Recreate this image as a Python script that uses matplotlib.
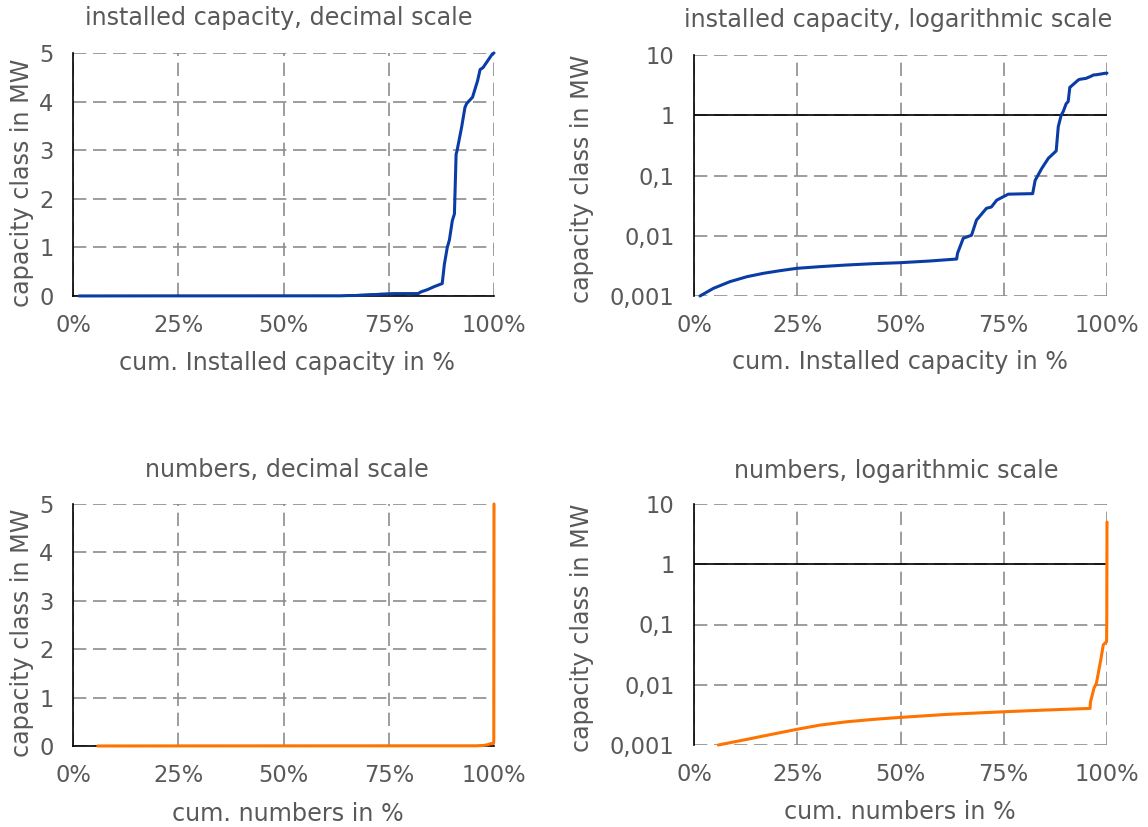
import numpy as np
import matplotlib
matplotlib.use("Agg")
import matplotlib.pyplot as plt
from matplotlib.ticker import FixedLocator, FixedFormatter

# cumulative share of installed capacity (%) vs. capacity class (MW)
cap_share = [1.45, 4.7, 8.7, 12.8, 16.8, 20.8, 24.9, 30.5, 37, 43.4, 49.9,
             57.1, 63.6, 63.8, 65.2, 67.2, 68.4, 70.8, 72, 73.3, 76.1, 82,
             82.6, 84.2, 85.8, 87.7, 88.2, 88.9, 89.4, 90.1, 90.6, 91.0, 91.2,
             92.3, 93.1, 93.5, 94.9, 96.1, 96.7, 97.4, 99.6, 100]
cap_class = [0.001, 0.00134, 0.00173, 0.00209, 0.00238, 0.00263, 0.00288,
             0.00307, 0.00327, 0.00344, 0.00357, 0.00381, 0.00411, 0.0051,
             0.0091, 0.0102, 0.0182, 0.0285, 0.030, 0.039, 0.049, 0.050,
             0.083, 0.131, 0.193, 0.256, 0.646, 1.0, 1.15, 1.55, 1.69, 2.92,
             2.98, 3.47, 3.88, 3.96, 4.09, 4.43, 4.66, 4.70, 4.98, 5.0]

# cumulative share of plant numbers (%) vs. capacity class (MW)
num_share = [5.9, 12.8, 16.8, 24.9, 30.5, 37, 43.4, 49.9, 61.2, 74.9, 85,
             95.9, 96.0, 96.9, 97.4, 98.5, 99.1, 99.9, 99.95, 100]
num_class = [0.001, 0.00124, 0.00141, 0.00182, 0.00214, 0.00243, 0.00266,
             0.00287, 0.00322, 0.00356, 0.0038, 0.00405, 0.0052, 0.009,
             0.0103, 0.026, 0.046, 0.052, 0.12, 5.0]

x_ticks = [0, 25, 50, 75, 100]
x_labels = ["0%", "25%", "50%", "75%", "100%"]
lin_ticks = [0, 1, 2, 3, 4, 5]
log_ticks = [0.001, 0.01, 0.1, 1, 10]
log_labels = ["0,001", "0,01", "0,1", "1", "10"]

BLUE = "#0a3ca6"
ORANGE = "#ff7300"
TXT = "#595959"
GRID = "#8c8c8c"

W, H = 1148, 827
plt.rcParams["font.family"] = "DejaVu Sans"
plt.rcParams["font.size"] = 16

fig = plt.figure(figsize=(W / 100, H / 100), dpi=100)
fig.set_facecolor("white")


def box(x0, y0, x1, y1):
    return [x0 / W, 1 - y1 / H, (x1 - x0) / W, (y1 - y0) / H]


def ftext(x, y, s, **kw):
    fig.text(x / W, 1 - y / H, s, ha="center", va="center", color=TXT,
             fontsize=17.2, **kw)


def setup(ax, log):
    ax.set_xlim(0, 100)
    ax.xaxis.set_major_locator(FixedLocator(x_ticks))
    ax.xaxis.set_major_formatter(FixedFormatter(x_labels))
    if log:
        ax.set_yscale("log")
        ax.set_ylim(0.001, 10)
        ax.yaxis.set_major_locator(FixedLocator(log_ticks))
        ax.yaxis.set_major_formatter(FixedFormatter(log_labels))
        ax.yaxis.set_minor_locator(FixedLocator([]))
        ax.axhline(1, color="black", lw=1.2, zorder=3)
        ax.spines["bottom"].set_visible(False)
    else:
        ax.set_ylim(0, 5)
        ax.yaxis.set_major_locator(FixedLocator(lin_ticks))
        ax.spines["bottom"].set_color("black")
        ax.spines["bottom"].set_linewidth(1.2)
        ax.spines["bottom"].set_zorder(3)
    for s in ["top", "right"]:
        ax.spines[s].set_visible(False)
    ax.spines["left"].set_color("black")
    ax.spines["left"].set_linewidth(1.2)
    ax.grid(True, color=GRID, lw=1.2, ls=(0, (8, 4)))
    ax.set_axisbelow(True)
    ax.tick_params(length=0, colors=TXT, labelsize=16.3)
    ax.tick_params(axis="x", pad=13)
    ax.tick_params(axis="y", pad=14)


panels = [
    (box(73, 53, 494, 296), False, cap_share, cap_class, BLUE,
     "installed capacity, decimal scale", (279, 18),
     "cum. Installed capacity in %", (287, 363), (22, 183)),
    (box(694, 55, 1107, 296), True, cap_share, cap_class, BLUE,
     "installed capacity, logarithmic scale", (898, 20),
     "cum. Installed capacity in %", (900, 362), (582, 179)),
    (box(73, 504, 494, 746), False, num_share, num_class, ORANGE,
     "numbers, decimal scale", (287, 470),
     "cum. numbers in %", (288, 814), (22, 633)),
    (box(694, 504, 1107, 745), True, num_share, num_class, ORANGE,
     "numbers, logarithmic scale", (896, 471),
     "cum. numbers in %", (900, 812), (582, 628)),
]

for rect, log, xs, ys, col, title, tpos, xlab, xpos, ypos in panels:
    ax = fig.add_axes(rect)
    setup(ax, log)
    ax.plot(xs, ys, color=col, lw=2.2, zorder=4, clip_on=False,
            solid_joinstyle="round", solid_capstyle="round")
    ftext(*tpos, title)
    ftext(*xpos, xlab)
    ftext(*ypos, "capacity class in MW", rotation=90)

fig.savefig("out.png", dpi=100, facecolor="white")
